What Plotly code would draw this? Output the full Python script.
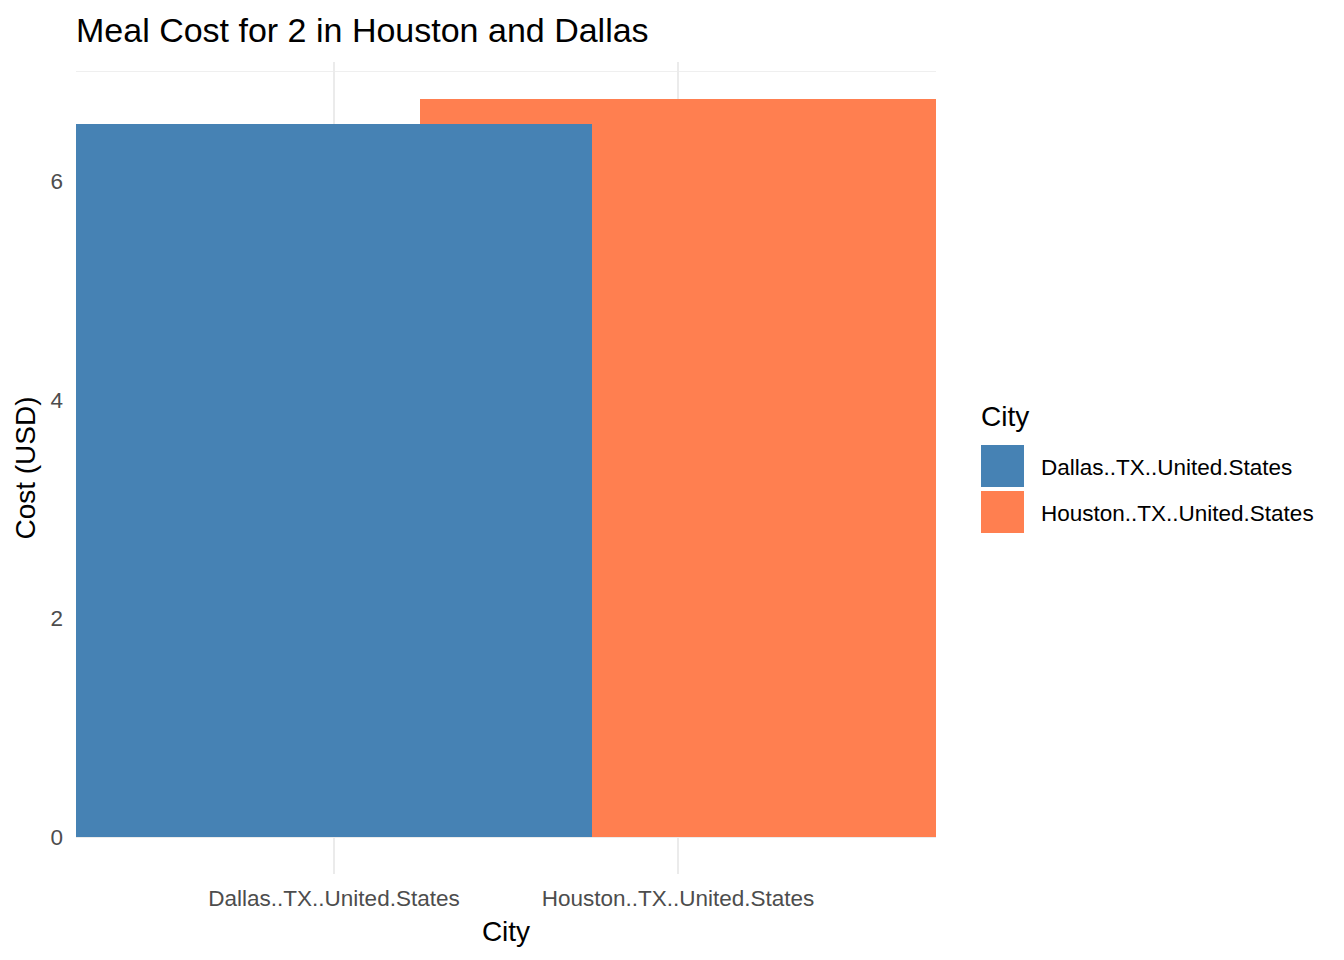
import plotly.graph_objects as go

cities = ["Dallas..TX..United.States", "Houston..TX..United.States"]
costs = [6.52, 6.75]
colors = ["#4682B4", "#FF7F50"]

title_text = "Meal Cost for 2 in Houston and Dallas"
x_title = "City"
y_title = "Cost (USD)"
legend_title = "City"
y_ticks = [0, 2, 4, 6]

FONT = "Liberation Sans, Arial, sans-serif"
OFF = 8  # page body margin
W, H = 1344 - OFF, 960 - OFF
L, R, T, B = 76 - OFF, 408, 62 - OFF, 86
pw, ph = W - L - R, H - T - B

def px_x(p):
    return (p - OFF - L) / pw

def px_y(p):
    return (H - B - (p - OFF)) / ph

fig = go.Figure()
# draw Houston first so Dallas appears on top in overlap
for i in [1, 0]:
    fig.add_trace(go.Bar(
        x=[cities[i]], y=[costs[i]], width=1.5, name=cities[i],
        marker=dict(color=colors[i], line=dict(width=0)), showlegend=False,
    ))

ymax = max(costs)
pad = 0.05 * ymax

fig.update_layout(
    width=W, height=H,
    margin=dict(l=L, r=R, t=T, b=B),
    paper_bgcolor="white", plot_bgcolor="white",
    barmode="overlay",
    font=dict(family=FONT, color="#000000"),
    title=dict(text=title_text, x=px_x(76), xref="paper", xanchor="left",
               y=1 - (30 - OFF) / H, yanchor="middle", font=dict(size=34, color="#000000")),
    xaxis=dict(
        type="category", categoryorder="array", categoryarray=cities,
        range=[-0.75, 1.75], showgrid=True, gridcolor="#EBEBEB", gridwidth=1.5,
        zeroline=False, showline=False, ticks="", ticklabelstandoff=8,
        tickfont=dict(size=22.5, color="#4D4D4D"),
        title=dict(text=x_title, font=dict(size=28, color="#000000"), standoff=11),
    ),
    yaxis=dict(
        range=[-pad, ymax + pad], tickvals=y_ticks, showgrid=True,
        gridcolor="#EBEBEB", gridwidth=1.5, zeroline=False, showline=False,
        ticks="", ticklabelstandoff=12,
        tickfont=dict(size=22.5, color="#4D4D4D"),
        minor=dict(tickvals=[1, 3, 5, 7], showgrid=True, gridcolor="#EFEFEF", gridwidth=0.8),
        title=dict(text=y_title, font=dict(size=28, color="#000000"), standoff=6),
    ),
)

# legend drawn as shapes + text
sw_top = [445, 491]
for i, c in enumerate(cities):
    fig.add_shape(type="rect", xref="paper", yref="paper",
                  x0=px_x(981), x1=px_x(1024), y0=px_y(sw_top[i] + 42), y1=px_y(sw_top[i]),
                  fillcolor=colors[i], line=dict(width=0))
    fig.add_annotation(text=c, xref="paper", yref="paper", x=px_x(1039), y=px_y(sw_top[i] + 22),
                       xanchor="left", yanchor="middle", showarrow=False,
                       font=dict(size=22.5, color="#000000"))
fig.add_annotation(text=legend_title, xref="paper", yref="paper", x=px_x(979), y=px_y(416),
                   xanchor="left", yanchor="middle", showarrow=False,
                   font=dict(size=28, color="#000000"))

fig.write_html("out.html")
